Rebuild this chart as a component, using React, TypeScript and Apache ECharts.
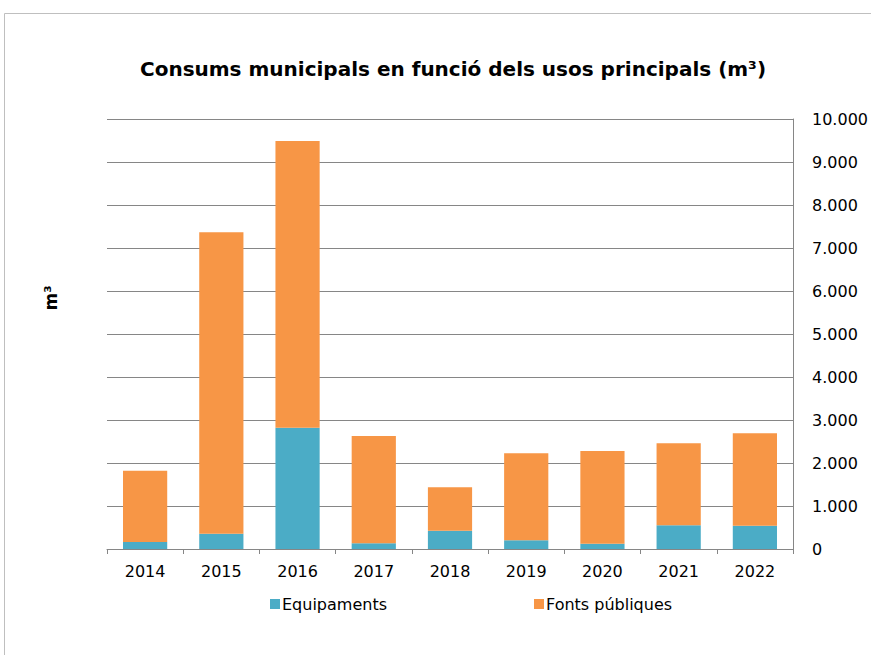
import React, { useEffect, useRef } from "react";
import * as echarts from "echarts";

const years = ["2014", "2015", "2016", "2017", "2018", "2019", "2020", "2021", "2022"];
const equipaments = [163, 356, 2822, 132, 426, 202, 124, 550, 542];
const fontsPubliques = [1657, 7009, 6666, 2496, 1008, 2023, 2155, 1907, 2148];
const yTicks = { min: 0, max: 10000, interval: 1000 };

const fmt = (v: number) => String(v).replace(/\B(?=(\d{3})+(?!\d))/g, ".");

export default function App() {
  const ref = useRef<HTMLDivElement>(null);
  useEffect(() => {
    if (!ref.current) return;
    const chart = echarts.init(ref.current, null, { renderer: "svg" });
    const font = "'DejaVu Sans', 'Liberation Sans', Arial, sans-serif";
    chart.setOption({
      animation: false,
      textStyle: { fontFamily: font },
      title: {
        text: "Consums municipals en funció dels usos principals (m³)",
        left: 448,
        textAlign: "center",
        top: 54,
        textStyle: { fontFamily: font, fontSize: 20, fontWeight: "bold", color: "#000" },
      },
      graphic: [
        {
          type: "rect",
          shape: { x: 4.5, y: 13.5, width: 900, height: 700 },
          style: { fill: "none", stroke: "#bfbfbf", lineWidth: 1 },
          silent: true,
        },
        {
          type: "text",
          x: 51,
          y: 298,
          rotation: Math.PI / 2,
          style: {
            text: "m³",
            font: "bold 17px 'DejaVu Sans', Arial, sans-serif",
            fill: "#000",
            align: "center",
            verticalAlign: "middle",
          },
        },
      ],
      legend: {
        left: 265,
        top: 591,
        itemGap: 147,
        itemWidth: 10,
        itemHeight: 10,
        icon: "rect",
        textStyle: { fontFamily: font, fontSize: 16, color: "#000", padding: [0, 0, 0, -3] },
        data: ["Equipaments", "Fonts públiques"],
      },
      grid: { left: 107, right: 78, top: 119, bottom: 106 },
      xAxis: {
        type: "category",
        data: years,
        axisLine: { lineStyle: { color: "#868686" } },
        axisTick: { show: true, length: 5, lineStyle: { color: "#868686" } },
        axisLabel: { color: "#000", fontSize: 16, margin: 14, fontFamily: font },
      },
      yAxis: {
        type: "value",
        position: "right",
        min: yTicks.min,
        max: yTicks.max,
        interval: yTicks.interval,
        axisLine: { show: true, lineStyle: { color: "#868686" } },
        axisTick: { show: false },
        splitLine: { lineStyle: { color: "#868686" } },
        axisLabel: { color: "#000", fontSize: 16, margin: 19, fontFamily: font, formatter: (v: number) => fmt(v) },
      },
      series: [
        {
          name: "Equipaments",
          type: "bar",
          stack: "total",
          barWidth: "58%",
          data: equipaments,
          itemStyle: { color: "#4BACC6" },
        },
        {
          name: "Fonts públiques",
          type: "bar",
          stack: "total",
          barWidth: "58%",
          data: fontsPubliques,
          itemStyle: { color: "#F79646" },
        },
      ],
    });
    return () => chart.dispose();
  }, []);
  return <div ref={ref} style={{ width: 871, height: 655, position: "absolute", left: 0, top: 0 }} />;
}
